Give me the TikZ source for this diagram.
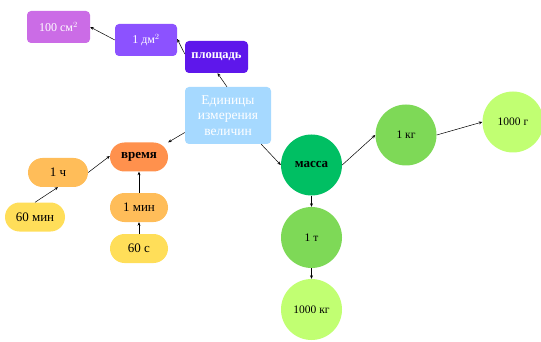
\documentclass[tikz,border=0pt]{standalone}
\usepackage{fontspec}
\setmainfont{Liberation Serif}
\usetikzlibrary{arrows.meta}
\definecolor{cpink}{HTML}{CB6CE6}
\definecolor{cmid}{HTML}{8C52FF}
\definecolor{cdark}{HTML}{5E17EB}
\definecolor{cblue}{HTML}{A6D9FF}
\definecolor{cmass}{HTML}{00BF63}
\definecolor{cgreen}{HTML}{7ED957}
\definecolor{clight}{HTML}{C1FF72}
\definecolor{corange}{HTML}{FF914D}
\definecolor{camber}{HTML}{FFBD59}
\definecolor{cyellow}{HTML}{FFDE59}
\tikzset{
  box/.style={rounded corners=4pt, inner sep=0pt, align=center},
  pill/.style={rounded corners=14.5pt, inner sep=0pt, align=center, minimum width=58pt, minimum height=29pt, font=\fontsize{13}{15}\selectfont},
  circ/.style={circle, inner sep=0pt, minimum size=61pt, font=\fontsize{11.5}{13}\selectfont},
  con/.style={-{Stealth[length=3.5pt,width=3pt]}, line width=0.5pt, black}
}
\begin{document}
\begin{tikzpicture}[x=1pt,y=-1pt]
\useasboundingbox (0,0) rectangle (541,342);
\node[box, fill=cpink, text=white, minimum width=63pt, minimum height=32pt, font=\fontsize{12}{14}\selectfont] (cm) at (58.5,27) {100 см$^{2}$};
\node[box, fill=cmid, text=white, minimum width=62pt, minimum height=32pt, font=\fontsize{12}{14}\selectfont] (dm) at (146,40) {1 дм$^{2}$};
\node[box, fill=cdark, text=white, minimum width=63pt, minimum height=32pt, font=\bfseries\fontsize{12.5}{14}\selectfont] (pl) at (216.5,57) {площадь};
\node[box, fill=cblue, text=white, minimum width=86pt, minimum height=57pt, font=\fontsize{13.5}{15.5}\selectfont] (root) at (228,115.5) {Единицы\\измерения\\величин};
\node[circ, fill=cmass, font=\bfseries\fontsize{13}{15}\selectfont] (mass) at (311.5,165) {масса};
\node[circ, fill=cgreen] (kg) at (406,135) {1 кг};
\node[circ, fill=clight] (g) at (513,122) {1000 г};
\node[circ, fill=cgreen] (t) at (311.5,237.5) {1 т};
\node[circ, fill=clight] (kg2) at (311.5,309.5) {1000 кг};
\node[pill, fill=corange, font=\bfseries\fontsize{13}{15}\selectfont] (vr) at (139,157) {время};
\node[pill, fill=camber, minimum width=60pt] (h) at (58,172.5) {1 ч};
\node[pill, fill=cyellow, minimum width=60pt] (m60) at (35,217) {60 мин};
\node[pill, fill=camber] (min) at (139,207.5) {1 мин};
\node[pill, fill=cyellow] (s60) at (139,248.5) {60 с};
\draw[con] (root.north) ++(-1,0) coordinate (r1) -- ([xshift=1pt]pl.south);
\draw[con] ([yshift=3pt]pl.west) -- ([yshift=1pt]dm.east);
\draw[con] (dm.west) -- (cm.east);
\draw[con] ([yshift=-17pt]root.west) -- (vr.north east);
\draw[con] (h.east) -- ([yshift=1pt]vr.west);
\draw[con] (m60.north) -- (h.south);
\draw[con] (min) -- (vr);
\draw[con] (s60) -- (min);
\draw[con] ([xshift=-10pt]root.south east) -- (mass.west);
\draw[con] (mass.east) -- (kg.west);
\draw[con] (kg.east) -- (g.west);
\draw[con] (mass) -- (t);
\draw[con] (t) -- (kg2);
\end{tikzpicture}
\end{document}
